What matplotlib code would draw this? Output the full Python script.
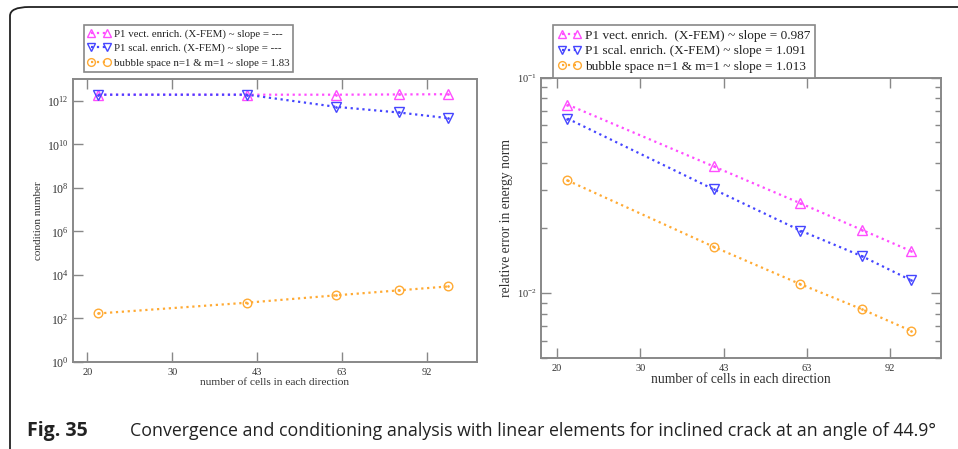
import numpy as np
import matplotlib
matplotlib.use('Agg')
import matplotlib.pyplot as plt
from matplotlib.patches import FancyBboxPatch
from matplotlib.ticker import NullFormatter, NullLocator, LogLocator

plt.rcParams['font.family'] = ['Liberation Serif', 'DejaVu Serif']
plt.rcParams['mathtext.fontset'] = 'custom'
plt.rcParams['mathtext.rm'] = 'Liberation Serif'
plt.rcParams['mathtext.it'] = 'Liberation Serif'

# data
cells = [21, 41, 61, 81, 101]
xtick_labels = ['20', '30', '43', '63', '92']

cond_vect = [1.9e12, 1.9e12, 1.9e12, 1.95e12, 2.0e12]
cond_scal = [1.9e12, 1.9e12, 5.3e11, 2.9e11, 1.6e11]
cond_bubble = [170, 530, 1150, 1950, 2950]

err_vect = [0.0749, 0.0387, 0.0261, 0.0196, 0.0157]
err_scal = [0.0645, 0.0303, 0.0195, 0.0148, 0.0115]
err_bubble = [0.0333, 0.0164, 0.0110, 0.0084, 0.0067]

labels_left = ['P1 vect. enrich. (X-FEM) ~ slope = ---',
               'P1 scal. enrich. (X-FEM) ~ slope = ---',
               'bubble space n=1 & m=1 ~ slope = 1.83']
labels_right = ['P1 vect. enrich.  (X-FEM) ~ slope = 0.987',
                'P1 scal. enrich. (X-FEM) ~ slope = 1.091',
                'bubble space n=1 & m=1 ~ slope = 1.013']

colors = ['#ff4dff', '#4545ff', '#ffaa33']
markers = ['^', 'v', 'o']
msizes = [6.5, 6.5, 6.2]
spine_col = '#888888'
text_col = '#333333'

W, H = 958, 449
fig = plt.figure(figsize=(W / 100, H / 100), dpi=100)

def fx(px):
    return px / W

def fy(py):
    return 1 - py / H

xticks = np.geomspace(20, 92, 5)
r = (92 / 20) ** 0.25


def draw(ax, series, labels, fs_xtick, fs_ytick, fs_leg, leg_anchor,
         hlen, lspace):
    handles = []
    for ys, c, m, ms in zip(series, colors, markers, msizes):
        ln, = ax.plot(cells, ys, ls=':', lw=1.6, color=c, marker=m, ms=ms,
                      mfc='none', mec=c, mew=1.0)
        ax.plot(cells, ys, ls='none', marker='.', ms=1.8, color=c)
        handles.append(ln)
    ax.set_xscale('log')
    ax.set_yscale('log')
    ax.set_xticks(xticks)
    ax.set_xticklabels(xtick_labels)
    ax.xaxis.set_minor_locator(NullLocator())
    for s in ax.spines.values():
        s.set_color(spine_col)
        s.set_linewidth(1.4)
    ax.tick_params(which='both', direction='in', color=spine_col, width=1.0,
                   labelcolor=text_col)
    ax.tick_params(axis='x', labelsize=fs_xtick, pad=4)
    ax.tick_params(axis='y', labelsize=fs_ytick, pad=3)
    ax.tick_params(which='major', length=7)
    ax.tick_params(which='minor', length=4)
    leg = fig.legend(handles, labels, loc='upper left',
                     bbox_to_anchor=leg_anchor, numpoints=2,
                     fontsize=fs_leg, frameon=True, fancybox=False,
                     framealpha=1, edgecolor=spine_col, handlelength=hlen,
                     handletextpad=0.3, borderpad=0.35, labelspacing=lspace,
                     borderaxespad=0, markerscale=0.9)
    leg.get_frame().set_linewidth(1.2)
    for t in leg.get_texts():
        t.set_color('#222222')
    return leg


# left: condition number
ax1 = fig.add_axes([fx(73), fy(362), fx(477 - 73), (362 - 79) / H])
draw(ax1, [cond_vect, cond_scal, cond_bubble], labels_left, 7.5, 8.5, 7.8,
     (fx(84), fy(25)), 2.1, 0.45)
ax1.set_xlim(20 * r ** -0.17, 92 * r ** 0.59)
ax1.set_ylim(1, 1e13)
ax1.set_yticks([10.0 ** k for k in range(0, 13, 2)])
ax1.set_yticklabels([r'$10^{%d}$' % k for k in range(0, 13, 2)])
ax1.yaxis.set_minor_locator(NullLocator())
ax1.tick_params(which='both', top=True, right=False)
ax1.set_xlabel('number of cells in each direction', fontsize=8.2,
               color=text_col, labelpad=1)
ax1.set_ylabel('condition number', fontsize=8, color=text_col, labelpad=3)

# right: relative error
ax2 = fig.add_axes([fx(541), fy(358), fx(941 - 541), (358 - 77.5) / H])
draw(ax2, [err_vect, err_scal, err_bubble], labels_right, 7.5, 7.5, 9.5,
     (fx(553), fy(25)), 1.8, 0.25)
ax2.set_xlim(20 * r ** -0.19, 92 * r ** 0.61)
ax2.set_ylim(0.005, 0.1)
ax2.set_yticks([0.01, 0.1])
ax2.set_yticklabels([r'$10^{-2}$', r'$10^{-1}$'])
ax2.yaxis.set_minor_locator(LogLocator(base=10, subs=np.arange(2, 10)))
ax2.yaxis.set_minor_formatter(NullFormatter())
ax2.tick_params(which='both', top=True, right=True)
ax2.set_xlabel('number of cells in each direction', fontsize=9.8,
               color=text_col, labelpad=0)
ax2.set_ylabel('relative error in energy norm', fontsize=9.8, color=text_col,
               labelpad=3)

# page frame (cropped rounded box)
frame = FancyBboxPatch((fx(10), fy(470)), fx(1000), (470 - 7) / H,
                       boxstyle='round,pad=0,rounding_size=0.02',
                       transform=fig.transFigure, fill=False,
                       ec='#222222', lw=1.3, clip_on=False)
fig.patches.append(frame)

# caption
fig.text(fx(27), fy(431), 'Fig. 35', fontsize=14, fontweight='bold',
         family=['Open Sans', 'DejaVu Sans'], va='center', color='#222222')
fig.text(fx(130), fy(431),
         'Convergence and conditioning analysis with linear elements for '
         'inclined crack at an angle of 44.9\u00b0',
         fontsize=12.8, family=['Open Sans', 'DejaVu Sans'], va='center',
         color='#222222')

fig.savefig('out.png', dpi=100)
